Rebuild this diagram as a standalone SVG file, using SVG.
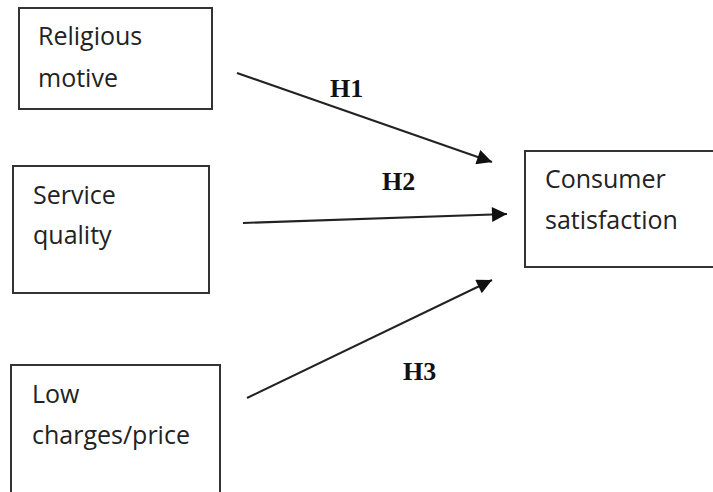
<svg xmlns="http://www.w3.org/2000/svg" width="713" height="492" viewBox="0 0 713 492">
<style>
.box{fill:#fff;stroke:#333;stroke-width:2}
.t{font-family:"Open Sans","Noto Sans",sans-serif;font-size:25px;fill:#222}
.h{font-family:"Liberation Serif","Times New Roman",serif;font-size:26px;font-weight:bold;fill:#111}
.c{stroke:#222;stroke-width:2;fill:none;marker-end:url(#ah)}
</style>
<defs>
<marker id="ah" viewBox="0 0 10 10" refX="10" refY="5" markerWidth="8.5" markerHeight="7.5" markerUnits="strokeWidth" orient="auto">
<path d="M0,0 L10,5 L0,10 Z" fill="#111"/>
</marker>
</defs>
<rect width="713" height="492" fill="#fff"/>
<g id="n1"><rect class="box" x="19" y="8" width="193" height="101"/><text class="t" x="38" y="45">Religious</text><text class="t" x="38" y="87">motive</text></g>
<g id="n2"><rect class="box" x="13" y="166" width="196" height="127"/><text class="t" x="33" y="204">Service</text><text class="t" x="33" y="244">quality</text></g>
<g id="n3"><rect class="box" x="11" y="365" width="209" height="140"/><text class="t" x="32" y="403">Low</text><text class="t" x="32" y="444">charges/price</text></g>
<g id="n4"><rect class="box" x="525" y="151" width="200" height="116"/><text class="t" x="545" y="188">Consumer</text><text class="t" x="545" y="229">satisfaction</text></g>
<g id="connectors">
<line class="c" x1="237" y1="73" x2="492" y2="162"/>
<line class="c" x1="243" y1="223" x2="507" y2="214"/>
<line class="c" x1="247" y1="398" x2="492" y2="280"/>
<text class="h" x="330" y="97">H1</text>
<text class="h" x="382" y="190">H2</text>
<text class="h" x="403" y="380">H3</text>
</g>
</svg>
